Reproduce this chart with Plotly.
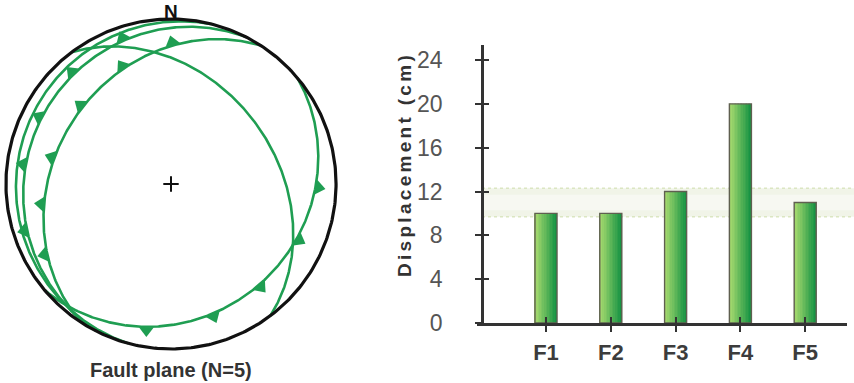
import numpy as np
import plotly.graph_objects as go

# ---------------- data ----------------
faults = ["F1", "F2", "F3", "F4", "F5"]
displacement = [10, 10, 12, 20, 11]
y_ticks = [0, 4, 8, 12, 16, 20, 24]
band_low, band_high = 9.7, 12.3

# fault planes (lower-hemisphere equal-area net)
plane_dip_dir = [140, 53, 303, 297, 285]
plane_dip = [20, 37, 30, 13, 7]
# positions of the dip teeth along each great circle (angle from strike, deg)
plane_teeth = [
    [43, 65, 89, 111, 138],
    [],
    [31, 52, 72, 97, 121, 144],
    [46, 71, 90, 111, 134],
    [],
]
net_title = "Fault plane (N=5)"

W, H = 854, 383
FONT = "Liberation Sans, Arial, sans-serif"
GREEN = "#1f9e52"


def plane_xy(dd, dip, thetas):
    dd_r, dip_r = np.radians(dd), np.radians(dip)
    st = dd_r - np.pi / 2
    th = np.radians(np.asarray(thetas, dtype=float))
    s = np.array([np.cos(st), np.sin(st), 0.0])
    d = np.array([np.cos(dip_r) * np.cos(dd_r), np.cos(dip_r) * np.sin(dd_r), np.sin(dip_r)])
    v = np.outer(np.cos(th), s) + np.outer(np.sin(th), d)
    plunge = np.arcsin(np.clip(v[:, 2], -1, 1))
    trend = np.arctan2(v[:, 1], v[:, 0])
    r = np.sqrt(2) * np.sin((np.pi / 2 - plunge) / 2)
    return r * np.sin(trend), r * np.cos(trend)


fig = go.Figure()

# ---- great circles ----
for dd, dp, teeth in zip(plane_dip_dir, plane_dip, plane_teeth):
    gx, gy = plane_xy(dd, dp, np.linspace(0, 180, 361))
    fig.add_trace(go.Scatter(x=gx, y=gy, mode="lines", line=dict(color=GREEN, width=2.6),
                             xaxis="x", yaxis="y", hoverinfo="skip", showlegend=False))
    if teeth:
        tx, ty = plane_xy(dd, dp, teeth)
        ax_, ay_ = plane_xy(dd, dp, np.array(teeth) + 0.5)
        bx_, by_ = plane_xy(dd, dp, np.array(teeth) - 0.5)
        tgx, tgy = ax_ - bx_, ay_ - by_
        nx, ny = tgy, -tgx
        u = np.array([np.sin(np.radians(dd)), np.cos(np.radians(dd))])
        sgn = np.sign(nx * u[0] + ny * u[1])
        nx, ny = nx * sgn, ny * sgn
        nn = np.hypot(nx, ny)
        nx, ny = nx / nn, ny / nn
        ang = np.degrees(np.arctan2(nx, ny))
        fig.add_trace(go.Scatter(x=tx + 0.022 * nx, y=ty + 0.022 * ny, mode="markers",
                                 marker=dict(symbol="triangle-up", size=13, color=GREEN,
                                             angle=ang, line=dict(width=0)),
                                 xaxis="x", yaxis="y", hoverinfo="skip", showlegend=False))

# primitive circle
a = np.linspace(0, 2 * np.pi, 400)
fig.add_trace(go.Scatter(x=np.cos(a), y=np.sin(a), mode="lines", line=dict(color="#111", width=3.2),
                         xaxis="x", yaxis="y", hoverinfo="skip", showlegend=False))
fig.add_trace(go.Scatter(x=[0], y=[0], mode="markers",
                         marker=dict(symbol="cross-thin", size=11, line=dict(color="#111", width=2)),
                         xaxis="x", yaxis="y", hoverinfo="skip", showlegend=False))

# ---- bars with horizontal gradient ----
bar_w = 0.34
n_strips = 14
c0 = np.array([170, 220, 112])
c1 = np.array([24, 148, 68])
for i in range(n_strips):
    t = i / (n_strips - 1)
    c = (c0 + (c1 - c0) * t).astype(int)
    fig.add_trace(go.Bar(x=faults, y=displacement, width=bar_w / n_strips,
                         offset=-bar_w / 2 + i * bar_w / n_strips,
                         marker=dict(color=f"rgb({c[0]},{c[1]},{c[2]})", line=dict(width=0)),
                         xaxis="x3", yaxis="y3", hoverinfo="skip", showlegend=False))
fig.add_trace(go.Bar(x=faults, y=displacement, width=bar_w, offset=-bar_w / 2,
                     marker=dict(color="rgba(0,0,0,0)", line=dict(color="#5f5f50", width=1.4)),
                     xaxis="x3", yaxis="y3", showlegend=False))
# helper for inside ticks
fig.add_trace(go.Scatter(x=[None], y=[None], xaxis="x4", yaxis="y4", showlegend=False,
                         hoverinfo="skip"))

x_dom = [477 / W, 847 / W]
y_dom = [(H - 323) / H, (H - 45) / H]
y_pos = 482 / W
x_rng = [-1.065, 4.645]
y_rng = [0, 25.37]

fig.update_layout(
    width=W, height=H, autosize=False, margin=dict(l=0, r=0, t=0, b=0, pad=0, autoexpand=False),
    paper_bgcolor="white", plot_bgcolor="rgba(0,0,0,0)", showlegend=False,
    barmode="overlay", font=dict(family=FONT),
    xaxis=dict(domain=[0, 342 / W], range=[-1.036, 1.036], visible=False, fixedrange=True,
               automargin=False),
    yaxis=dict(domain=[0, 1], range=[-1.206, 1.115], visible=False, fixedrange=True,
               automargin=False),
    xaxis3=dict(domain=x_dom, range=x_rng, anchor="y3", type="category",
                categoryorder="array", categoryarray=faults, automargin=False,
                showline=True, linecolor="#333", linewidth=2.5, showgrid=False, zeroline=False,
                ticks="outside", ticklen=6, tickwidth=2, tickcolor="#333",
                ticklabelstandoff=2,
                tickfont=dict(family=FONT, size=22, color="#3c3c3c", weight="bold")),
    yaxis3=dict(domain=y_dom, range=y_rng, anchor="free", position=y_pos, automargin=False,
                tickvals=y_ticks, showline=True, linecolor="#333", linewidth=2.5,
                showgrid=False, zeroline=False,
                ticks="outside", ticklen=6, tickwidth=2, tickcolor="#333",
                ticklabelstandoff=28,
                tickfont=dict(family=FONT, size=23, color="#555")),
    xaxis4=dict(domain=x_dom, range=[x_rng[0], x_rng[1]], anchor="y3", overlaying="x3",
                automargin=False,
                tickvals=list(range(len(faults))), showticklabels=False, showline=False,
                showgrid=False, zeroline=False, ticks="inside", ticklen=6, tickwidth=2,
                tickcolor="#333"),
    yaxis4=dict(domain=y_dom, range=y_rng, anchor="free", position=y_pos, overlaying="y3",
                automargin=False,
                tickvals=y_ticks, showticklabels=False, showline=False, showgrid=False,
                zeroline=False, ticks="inside", ticklen=6, tickwidth=2, tickcolor="#333"),
    shapes=[
        dict(type="rect", xref="paper", x0=y_pos, x1=1, yref="y3", y0=band_low, y1=band_high,
             fillcolor="#f1f4e8", line=dict(width=0), layer="below"),
        dict(type="rect", xref="paper", x0=y_pos, x1=1, yref="y3",
             y0=band_low + 0.6, y1=band_high - 0.6,
             fillcolor="#f7f8f2", line=dict(width=0), layer="below"),
        dict(type="line", xref="paper", x0=y_pos, x1=1, yref="y3", y0=band_low, y1=band_low,
             line=dict(color="#dbe6c2", width=1.5, dash="dot"), layer="below"),
        dict(type="line", xref="paper", x0=y_pos, x1=1, yref="y3", y0=band_high, y1=band_high,
             line=dict(color="#dbe6c2", width=1.5, dash="dot"), layer="below"),
    ],
    annotations=[
        dict(text="<b>N</b>", xref="paper", yref="paper", x=171 / W, y=1 - 11 / H,
             showarrow=False, font=dict(family=FONT, size=19, color="#111"),
             xanchor="center", yanchor="middle"),
        dict(text="<b>" + net_title + "</b>", xref="paper", yref="paper", x=171 / W,
             y=1 - 370 / H, showarrow=False, font=dict(family=FONT, size=20, color="#333"),
             xanchor="center", yanchor="middle"),
        dict(text='<b><span style="letter-spacing:3.3px">Displacement (cm)</span></b>',
             xref="paper", yref="paper", x=404 / W, y=1 - 165 / H, textangle=-90,
             showarrow=False, font=dict(family=FONT, size=19, color="#333"),
             xanchor="center", yanchor="middle"),
    ],
)

fig.write_html("out.html")
